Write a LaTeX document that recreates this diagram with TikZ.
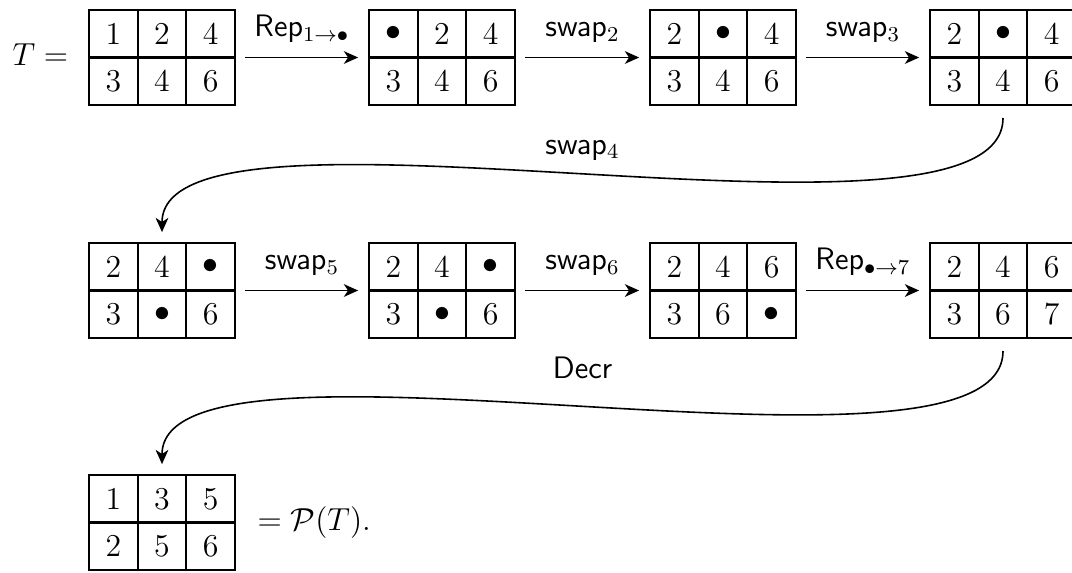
\documentclass[tikz,border=0pt]{standalone}
\usetikzlibrary{arrows.meta,calc}
\begin{document}
\fontsize{11.7}{14}\selectfont
\begin{tikzpicture}[x=0.377pt,y=-0.377pt,
  tab/.style={draw,line width=0.8pt,minimum width=146*0.377pt,minimum height=95*0.377pt,inner sep=0pt,outer sep=0pt,anchor=north west},
  gridl/.style={line width=0.8pt},
  cell/.style={inner sep=0pt},
  arr/.style={line width=0.6pt,-{Stealth[length=5.4pt,width=4.8pt,inset=1.6pt]}},
  hop/.style={arr,shorten <=3.8pt,shorten >=4.1pt},
  lab/.style={above=1pt,font=\sffamily,text depth=2.6pt}]
\useasboundingbox (0,0) rectangle (1072,572);
\newcommand\tabl[9]{%
  \node[tab] (#1) at (#2,#3) {};
  \draw[gridl] ($(#1.north west)!1/3!(#1.north east)$) -- ($(#1.south west)!1/3!(#1.south east)$);
  \draw[gridl] ($(#1.north west)!2/3!(#1.north east)$) -- ($(#1.south west)!2/3!(#1.south east)$);
  \draw[gridl] (#1.west) -- (#1.east);
  \node[cell] (#1a) at ($(#1.north west)+(24.33,23.75)$) {$#4$};
  \node[cell] (#1b) at ($(#1.north west)+(73,23.75)$) {$#5$};
  \node[cell] (#1c) at ($(#1.north west)+(121.67,23.75)$) {$#6$};
  \node[cell] (#1d) at ($(#1.north west)+(24.33,71.25)$) {$#7$};
  \node[cell] (#1e) at ($(#1.north west)+(73,71.25)$) {$#8$};
  \node[cell] (#1f) at ($(#1.north west)+(121.67,71.25)$) {$#9$};
}
% row 1
\node[anchor=base west,inner sep=0pt] (lhs) at (12,65) {$T =$};
\tabl{t1}{89}{10}{1}{2}{4}{3}{4}{6}
\tabl{t2}{369}{10}{\bullet}{2}{4}{3}{4}{6}
\tabl{t3}{650}{10}{2}{\bullet}{4}{3}{4}{6}
\tabl{t4}{930}{10}{2}{\bullet}{4}{3}{4}{6}
% row 2
\tabl{t5}{89}{243}{2}{4}{\bullet}{3}{\bullet}{6}
\tabl{t6}{369}{243}{2}{4}{\bullet}{3}{\bullet}{6}
\tabl{t7}{650}{243}{2}{4}{6}{3}{6}{\bullet}
\tabl{t8}{930}{243}{2}{4}{6}{3}{6}{7}
% row 3
\tabl{t9}{89}{475}{1}{3}{5}{2}{5}{6}
\node[anchor=base west,inner sep=0pt] (rhs) at (257,530) {$=\mathcal{P}(T).$};
% arrows
\draw[hop] (t1.east) -- (t2.west) node[midway,lab] {Rep$_{1\to\bullet}$};
\draw[hop] (t2.east) -- (t3.west) node[midway,lab] {swap$_2$};
\draw[hop] (t3.east) -- (t4.west) node[midway,lab] {swap$_3$};
\draw[arr,shorten <=4.9pt,shorten >=4.1pt] (t4.south) .. controls +(0,170) and +(0,-168) .. (t5.north) node[pos=0.5,lab] {swap$_4$};
\draw[hop] (t5.east) -- (t6.west) node[midway,lab] {swap$_5$};
\draw[hop] (t6.east) -- (t7.west) node[midway,lab] {swap$_6$};
\draw[hop] (t7.east) -- (t8.west) node[midway,lab] {Rep$_{\bullet\to 7}$};
\draw[arr,shorten <=4.9pt,shorten >=4.1pt] (t8.south) .. controls +(0,170) and +(0,-168) .. (t9.north) node[pos=0.5,lab,above=3pt] {Decr};
\end{tikzpicture}
\end{document}
